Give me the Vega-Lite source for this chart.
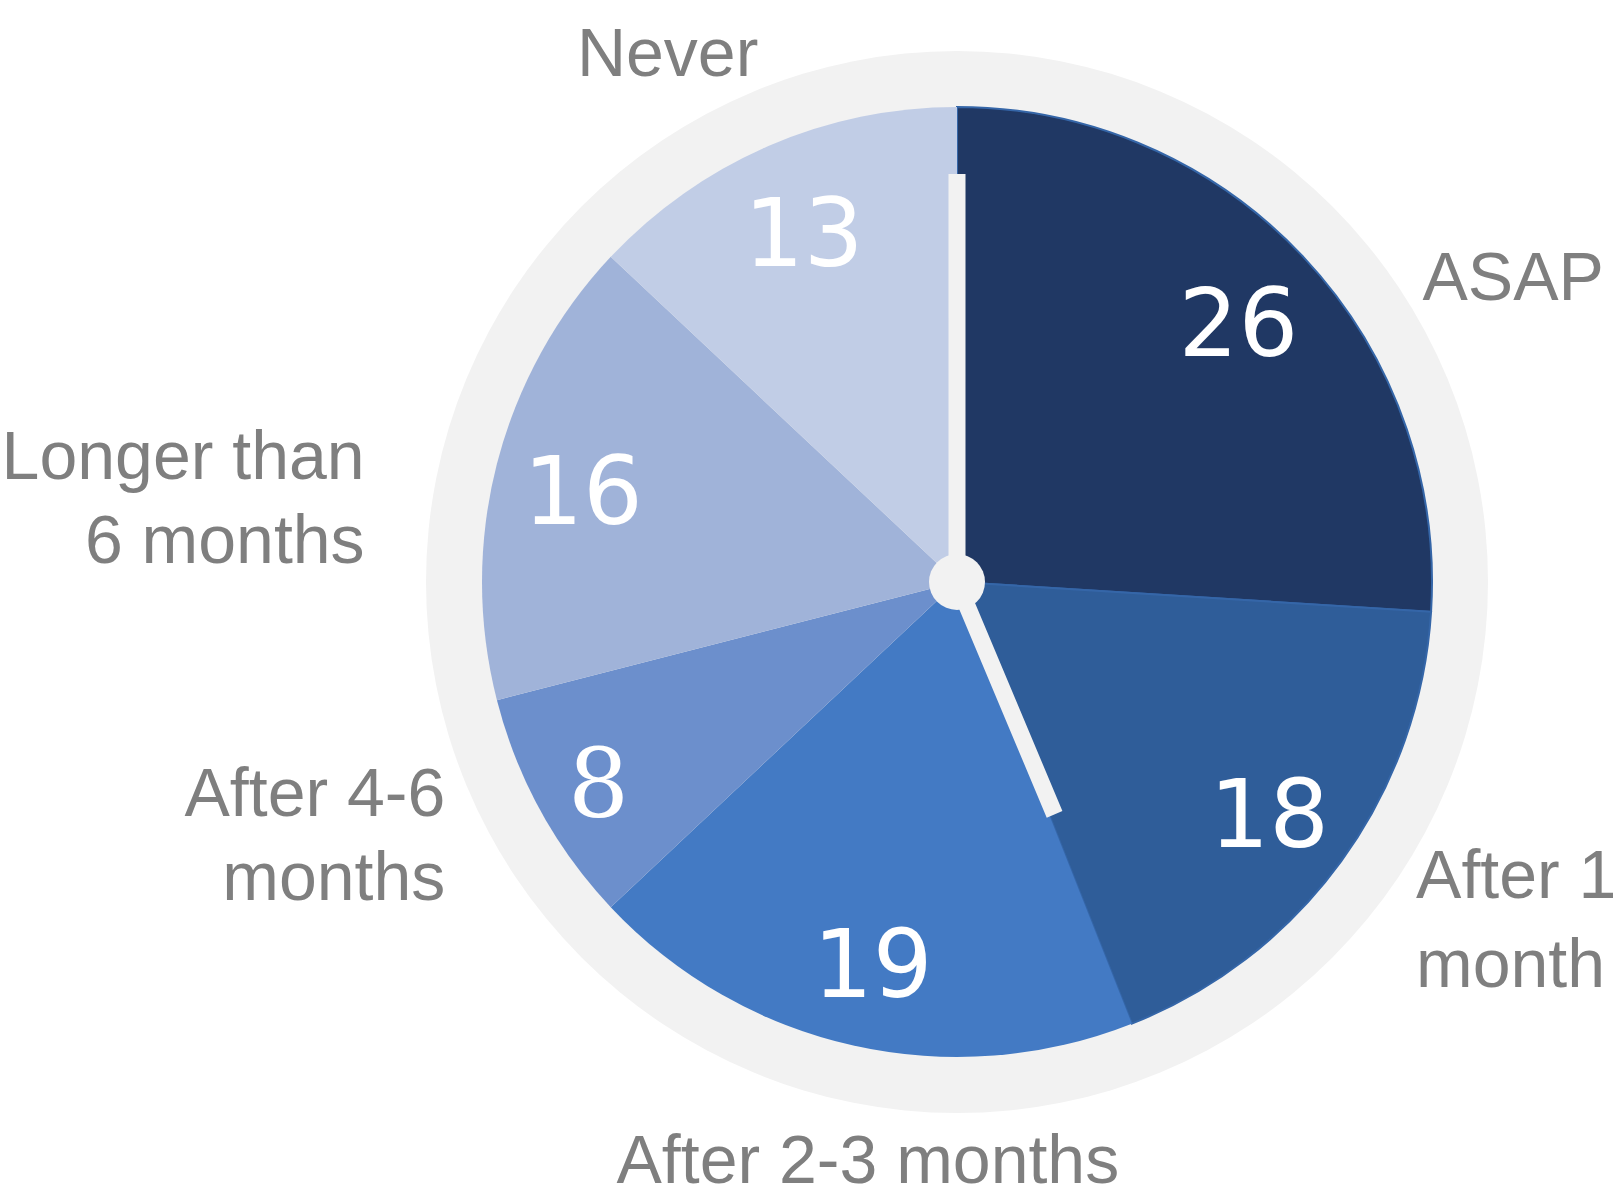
{
  "$schema": "https://vega.github.io/schema/vega-lite/v6.json",
  "width": 1100,
  "height": 1100,
  "autosize": {"type": "none"},
  "padding": {"left": 407, "top": 32, "right": 113, "bottom": 64},
  "background": "white",
  "config": {"view": {"stroke": null}},
  "datasets": {
    "slices": [
      {"idx": 1, "category": "ASAP", "label": "ASAP", "value": 26},
      {"idx": 2, "category": "After 1 month", "label": "After 1\nmonth", "value": 18},
      {"idx": 3, "category": "After 2-3 months", "label": "After 2-3 months", "value": 19},
      {"idx": 4, "category": "After 4-6 months", "label": "After 4-6\nmonths", "value": 8},
      {"idx": 5, "category": "Longer than 6 months", "label": "Longer than\n6 months", "value": 16},
      {"idx": 6, "category": "Never", "label": "Never", "value": 13}
    ]
  },
  "data": {"name": "slices"},
  "layer": [
    {
      "data": {"values": [{"part": "ring"}]},
      "mark": {"type": "arc", "theta": 0, "theta2": 6.2832, "radius": 531, "fill": "#f2f2f2"}
    },
    {
      "mark": {"type": "arc", "radius": 475, "strokeWidth": 2},
      "encoding": {
        "theta": {"field": "value", "type": "quantitative", "stack": true},
        "order": {"field": "idx", "type": "quantitative"},
        "color": {
          "field": "category",
          "type": "nominal",
          "scale": {
            "domain": ["ASAP", "After 1 month", "After 2-3 months", "After 4-6 months", "Longer than 6 months", "Never"],
            "range": ["#203864", "#2f5d99", "#437ac4", "#6c8fcc", "#a0b3d9", "#c1cde6"]
          },
          "legend": null
        },
        "stroke": {"condition": {"test": "datum.idx <= 2", "value": "#3566a8"}, "value": "transparent"}
      }
    },
    {
      "mark": {"type": "text", "radius": 386, "font": "DejaVu Sans", "fontSize": 94, "fill": "white", "align": "center", "baseline": "alphabetic", "dy": 38},
      "encoding": {
        "theta": {"field": "value", "type": "quantitative", "stack": true},
        "order": {"field": "idx", "type": "quantitative"},
        "text": {"condition": {"test": "datum.idx != 4", "field": "value", "type": "nominal"}, "value": ""}
      }
    },
    {
      "mark": {"type": "text", "radius": 409, "font": "DejaVu Serif", "fontSize": 96, "fill": "white", "align": "center", "baseline": "alphabetic", "dy": 38},
      "encoding": {
        "theta": {"field": "value", "type": "quantitative", "stack": true},
        "order": {"field": "idx", "type": "quantitative"},
        "text": {"condition": {"test": "datum.idx == 4", "field": "value", "type": "nominal"}, "value": ""}
      }
    },
    {
      "data": {"values": [{"part": "minute hand"}]},
      "mark": {"type": "arc", "theta": 6.2832, "theta2": 6.2832, "radius": 408, "radius2": 0, "fill": "#f2f2f2", "stroke": "#f2f2f2", "strokeWidth": 17}
    },
    {
      "data": {"values": [{"part": "hour hand"}]},
      "mark": {"type": "arc", "theta": 2.744, "theta2": 2.744, "radius": 252, "radius2": 0, "fill": "#f2f2f2", "stroke": "#f2f2f2", "strokeWidth": 17}
    },
    {
      "data": {"values": [{"part": "hub"}]},
      "mark": {"type": "arc", "theta": 0, "theta2": 6.2832, "radius": 28, "fill": "#f2f2f2"}
    },
    {
      "mark": {"type": "text", "radius": 560, "font": "Liberation Sans", "fontSize": 68, "lineHeight": 86, "lineBreak": "\n", "fill": "#7f7f7f", "align": "center", "baseline": "alphabetic", "dx": 148, "dy": 101},
      "encoding": {
        "theta": {"field": "value", "type": "quantitative", "stack": true},
        "order": {"field": "idx", "type": "quantitative"},
        "text": {"condition": {"test": "datum.idx == 1", "field": "label", "type": "nominal"}, "value": ""}
      }
    },
    {
      "mark": {"type": "text", "radius": 560, "font": "Liberation Sans", "fontSize": 68, "lineHeight": 89, "lineBreak": "\n", "fill": "#7f7f7f", "align": "left", "baseline": "alphabetic", "dx": 6, "dy": -13},
      "encoding": {
        "theta": {"field": "value", "type": "quantitative", "stack": true},
        "order": {"field": "idx", "type": "quantitative"},
        "text": {"condition": {"test": "datum.idx == 2", "field": "label", "type": "nominal"}, "value": ""}
      }
    },
    {
      "mark": {"type": "text", "radius": 560, "font": "Liberation Sans", "fontSize": 68, "lineHeight": 86, "lineBreak": "\n", "fill": "#7f7f7f", "align": "center", "baseline": "alphabetic", "dx": 33, "dy": 54},
      "encoding": {
        "theta": {"field": "value", "type": "quantitative", "stack": true},
        "order": {"field": "idx", "type": "quantitative"},
        "text": {"condition": {"test": "datum.idx == 3", "field": "label", "type": "nominal"}, "value": ""}
      }
    },
    {
      "mark": {"type": "text", "radius": 560, "font": "Liberation Sans", "fontSize": 68, "lineHeight": 84, "lineBreak": "\n", "fill": "#7f7f7f", "align": "right", "baseline": "alphabetic", "dx": -21, "dy": -36},
      "encoding": {
        "theta": {"field": "value", "type": "quantitative", "stack": true},
        "order": {"field": "idx", "type": "quantitative"},
        "text": {"condition": {"test": "datum.idx == 4", "field": "label", "type": "nominal"}, "value": ""}
      }
    },
    {
      "mark": {"type": "text", "radius": 560, "font": "Liberation Sans", "fontSize": 68, "lineHeight": 84, "lineBreak": "\n", "fill": "#7f7f7f", "align": "right", "baseline": "alphabetic", "dx": -50, "dy": 36},
      "encoding": {
        "theta": {"field": "value", "type": "quantitative", "stack": true},
        "order": {"field": "idx", "type": "quantitative"},
        "text": {"condition": {"test": "datum.idx == 5", "field": "label", "type": "nominal"}, "value": ""}
      }
    },
    {
      "mark": {"type": "text", "radius": 560, "font": "Liberation Sans", "fontSize": 68, "lineHeight": 86, "lineBreak": "\n", "fill": "#7f7f7f", "align": "center", "baseline": "alphabetic", "dx": -67, "dy": 8},
      "encoding": {
        "theta": {"field": "value", "type": "quantitative", "stack": true},
        "order": {"field": "idx", "type": "quantitative"},
        "text": {"condition": {"test": "datum.idx == 6", "field": "label", "type": "nominal"}, "value": ""}
      }
    }
  ]
}
